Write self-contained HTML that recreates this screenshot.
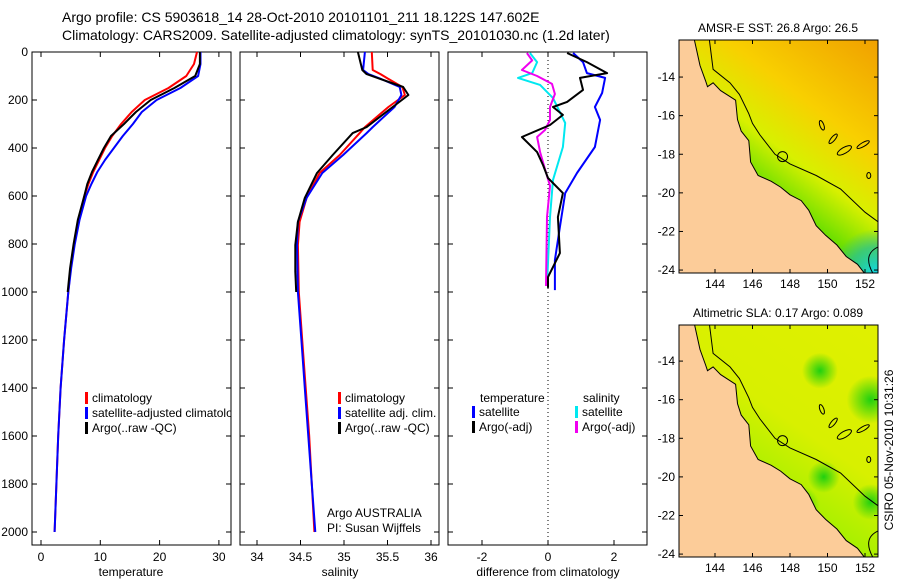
<!DOCTYPE html>
<html><head><meta charset="utf-8"><style>
html,body{margin:0;padding:0;background:#fff;}
svg{display:block;font-family:"Liberation Sans",sans-serif;}
</style></head><body>
<svg id="c" width="900" height="580" viewBox="0 0 900 580" xmlns="http://www.w3.org/2000/svg">
<defs>
<linearGradient id="sstg" x1="1" y1="0" x2="0.35" y2="1">
<stop offset="0" stop-color="#f0a000"/><stop offset="0.35" stop-color="#f8d000"/>
<stop offset="0.55" stop-color="#d8f000"/><stop offset="0.7" stop-color="#70e000"/>
<stop offset="0.85" stop-color="#10c030"/><stop offset="1" stop-color="#10b0a0"/></linearGradient>
<radialGradient id="cyan" cx="0.5" cy="0.5" r="0.5"><stop offset="0" stop-color="#10d8e8"/><stop offset="0.6" stop-color="#20c0a0" stop-opacity="0.7"/><stop offset="1" stop-color="#20c0a0" stop-opacity="0"/></radialGradient>
<linearGradient id="slag" x1="1" y1="0" x2="0.4" y2="1">
<stop offset="0" stop-color="#e0f000"/><stop offset="0.5" stop-color="#d8f000"/><stop offset="0.8" stop-color="#a0f000"/><stop offset="1" stop-color="#60e000"/></linearGradient>
<radialGradient id="gblob"><stop offset="0" stop-color="#20d010"/><stop offset="1" stop-color="#20d010" stop-opacity="0"/></radialGradient>
<clipPath id="clipM1"><rect x="679" y="40" width="199" height="233"/></clipPath>
<clipPath id="clipM2"><rect x="679" y="325" width="199" height="232"/></clipPath>
<clipPath id="clipP1"><rect x="32" y="52" width="199" height="493"/></clipPath>
</defs>
<text x="62" y="22" font-size="14">Argo profile: CS 5903618_14 28-Oct-2010 20101101_211 18.122S 147.602E</text>
<text x="62" y="40" font-size="14">Climatology: CARS2009. Satellite-adjusted climatology: synTS_20101030.nc (1.2d later)</text>
<g id="root"></g>
</svg>
<script>
// ---- data ----
const depths=[0,50,100,150,200,250,300,350,400,450,500,550,600,700,800,900,1000,1200,1400,1600,1800,2000];
const tempClim=[26.3,25.8,24.5,21.5,17.5,15.3,13.5,12.0,10.8,9.8,8.8,8.0,7.3,6.3,5.6,5.0,4.6,3.9,3.3,2.9,2.6,2.3];
const tempSat=[26.9,26.9,26.5,23.5,19.5,17.0,15.5,13.8,12.3,10.8,9.5,8.5,7.6,6.5,5.7,5.1,4.6,3.9,3.3,2.9,2.6,2.3];
const argoDepths=[0,50,100,150,200,250,300,350,400,450,500,550,600,700,800,900,1000];
const tempArgo=[26.8,26.8,26.0,22.5,18.5,16.0,14.0,11.8,10.6,9.6,8.6,7.8,7.3,6.2,5.5,4.9,4.5];
const salDepths=[0,75,92,110,146,179,229,313,338,429,504,608,708,804,1000,1200,1400,1600,1800,2000];
const salClim=[35.32,35.33,35.42,35.5,35.67,35.70,35.51,35.24,35.18,34.95,34.72,34.57,34.49,34.47,34.48,34.52,34.56,34.60,34.63,34.66];
const salSat=[35.24,35.22,35.28,35.41,35.64,35.66,35.58,35.33,35.26,34.99,34.75,34.57,34.47,34.46,34.47,34.51,34.55,34.59,34.63,34.67];
const salArgoDepths=[0,75,92,146,179,229,313,338,429,504,608,708,804,915,1000];
const salArgo=[35.16,35.21,35.26,35.68,35.74,35.56,35.26,35.10,34.87,34.69,34.55,34.47,34.44,34.44,34.45];
const dTsatD=[4,42,88,108,171,229,283,396,504,588,729,867,992];
const dTsat=[0.76,1.06,1.18,1.73,1.64,1.42,1.58,1.42,0.88,0.52,0.36,0.21,0.21];
const dTargoD=[4,42,88,108,158,208,229,262,304,354,417,471,525,588,688,838,938,983];
const dTargo=[0.58,1.18,1.79,0.97,1.06,0.58,0.15,0.45,0.06,-0.79,-0.33,-0.15,0,0.45,0.3,0.36,0,0];
const dSsatD=[4,42,88,108,137,192,296,396,533,688,975];
const dSsat=[-0.55,-0.33,-0.48,-0.91,-0.24,0.15,0.52,0.45,0.15,0.06,-0.03];
const dSargoD=[4,35,75,100,133,175,229,283,325,354,417,488,558,688,975];
const dSargo=[-0.64,-0.48,-0.79,-0.33,0.12,0.21,0.06,0.06,-0.09,-0.33,-0.24,-0.09,0.06,-0.03,-0.06];
const depthTicks=[0,200,400,600,800,1000,1200,1400,1600,1800,2000];
const tempTicks=[0,10,20,30];
const salTicks=[34,34.5,35,35.5,36];
const diffTicks=[-2,0,2];
const lonTicks=[144,146,148,150,152];
const latTicks=[-14,-16,-18,-20,-22,-24];
const coastLon=[142.9,143.2,143.5,143.6,143.9,144.3,145.1,145.2,145.4,145.8,145.9,146.3,147.0,147.5,148.0,148.6,149.0,149.4,149.9,150.5,151.0,151.6,152.0];
const coastLat=[-12.08,-13.4,-14.2,-14.5,-14.3,-14.7,-15.2,-16.2,-16.8,-17.3,-18.4,-19.1,-19.4,-19.7,-20.1,-20.4,-20.9,-21.7,-22.2,-22.7,-23.3,-23.7,-24.2];
const shelfLon=[143.7,143.9,144.8,145.3,145.8,146.0,146.4,147.2,148.0,149.4,150.7,152.0,152.7];
const shelfLat=[-12.08,-13.6,-14.3,-14.9,-15.9,-16.4,-17.0,-18.0,-18.5,-19.1,-19.8,-21.0,-21.5];
const argoPos=[147.602,-18.122];

// ---- helpers ----
const NS='http://www.w3.org/2000/svg', root=document.getElementById('root');
function el(tag,attrs,parent){const e=document.createElementNS(NS,tag);for(const k in attrs)e.setAttribute(k,attrs[k]);(parent||root).appendChild(e);return e;}
function txt(x,y,s,attrs,parent){const t=el('text',Object.assign({x:x,y:y,'font-size':12},attrs||{}),parent);t.textContent=s;return t;}
const TOP=52, BOT=545;
const yD=d=>TOP+0.24*d;
const xT=v=>41+5.93*v;
const xS=v=>257+87*(v-34);
const xDf=v=>548+33*v;
function line(xs,ds,fx,color,name){
  const pts=xs.map((v,i)=>fx(v).toFixed(1)+','+yD(ds[i]).toFixed(1)).join(' ');
  const p=el('polyline',{points:pts,fill:'none',stroke:color,'stroke-width':2,'stroke-linejoin':'round'});
  
  
}
function frame(x0,x1,name){
  const r=el('rect',{x:x0,y:TOP,width:x1-x0,height:BOT-TOP,fill:'none',stroke:'#000','stroke-width':1});
  
  
  depthTicks.forEach(d=>{el('line',{x1:x0,x2:x0+5,y1:yD(d),y2:yD(d),stroke:'#000'});el('line',{x1:x1-5,x2:x1,y1:yD(d),y2:yD(d),stroke:'#000'});});
}
function xticks(ticks,fx,name){
  ticks.forEach(v=>{const x=fx(v);
    el('line',{x1:x,x2:x,y1:BOT,y2:BOT-5,stroke:'#000'});
    el('line',{x1:x,x2:x,y1:TOP,y2:TOP+5,stroke:'#000'});
    const lab=txt(x,561,String(v),{'text-anchor':'middle'});
    
    
  });
}

frame(32,231,'temperature-panel');
depthTicks.forEach(d=>{const t=txt(28,yD(d)+4,String(d),{'text-anchor':'end'});
  
  });
xticks(tempTicks,xT,'temperature-tick-label');
line(tempClim,depths,xT,'#f00','temp-climatology-line');
line(tempSat,depths,xT,'#00f','temp-satellite-line');
line(tempArgo,argoDepths,xT,'#000','temp-argo-line');

frame(240,439,'salinity-panel');
xticks(salTicks,xS,'salinity-tick-label');
line(salClim,salDepths,xS,'#f00','sal-climatology-line');
line(salSat,salDepths,xS,'#00f','sal-satellite-line');
line(salArgo,salArgoDepths,xS,'#000','sal-argo-line');

frame(448,647,'difference-panel');
xticks(diffTicks,xDf,'difference-tick-label');
const zl=el('line',{x1:xDf(0),x2:xDf(0),y1:TOP,y2:BOT,stroke:'#000','stroke-dasharray':'1,3'});


line(dSsat,dSsatD,xDf,'#00e8f0','sal-satellite-diff-line');
line(dSargo,dSargoD,xDf,'#f000f0','sal-argo-diff-line');
line(dTsat,dTsatD,xDf,'#00f','temp-satellite-diff-line');
line(dTargo,dTargoD,xDf,'#000','temp-argo-diff-line');

[[131,'temperature','temperature-axis-title'],[340,'salinity','salinity-axis-title'],[548,'difference from climatology','difference-axis-title']].forEach(a=>{
  const t=txt(a[0],576,a[1],{'text-anchor':'middle'});
  
  });
function legRow(x,y,color,label,name,parent){
  el('rect',{x:x,y:y-10,width:3,height:12,fill:color},parent);
  const t=txt(x+7,y,label,{},parent);
  
  
}
const lg1=el('g',{'clip-path':'url(#clipP1)'});


[['#f00','climatology'],['#00f','satellite-adjusted climatology'],['#000','Argo(..raw -QC)']].forEach((r,i)=>legRow(85,402+15*i,r[0],r[1],'temperature-legend-entry',lg1));
[['#f00','climatology'],['#00f','satellite adj. clim.'],['#000','Argo(..raw -QC)']].forEach((r,i)=>legRow(338,402+15*i,r[0],r[1],'salinity-legend-entry'));
txt(480,402,'temperature',{});
txt(583,402,'salinity',{});
legRow(472,416,'#00f','satellite','legend-temp-satellite');
legRow(472,431,'#000','Argo(-adj)','legend-temp-argo');
legRow(575,416,'#00e8f0','satellite','legend-sal-satellite');
legRow(575,431,'#f000f0','Argo(-adj)','legend-sal-argo');
txt(327,517,'Argo AUSTRALIA',{});
txt(327,532,'PI: Susan Wijffels',{});

function map(top,bottom,clip,fill,title,name,blobs){
  const g=el('g',{});
  
  
  const lat0=top===40?-12.08:-12.13;
  const fx=lon=>679+18.75*(lon-142.08);
  const fy=lat=>top+19.3*(lat0-lat);
  const inner=el('g',{'clip-path':clip},g);
  el('rect',{x:679,y:top,width:199,height:bottom-top,fill:fill},inner);
  blobs.forEach(b=>el('ellipse',{cx:fx(b[0]),cy:fy(b[1]),rx:b[2],ry:b[2],fill:b[3]},inner));
  let pts=coastLon.map((v,i)=>fx(v).toFixed(1)+','+fy(coastLat[i]).toFixed(1));
  pts.push('679,'+(bottom+5),'679,'+(top-5));
  const land=el('polygon',{points:pts.join(' '),fill:'#fccc99',stroke:'#000','stroke-width':1},inner);
  
  
  el('polyline',{points:shelfLon.map((v,i)=>fx(v).toFixed(1)+','+fy(shelfLat[i]).toFixed(1)).join(' '),fill:'none',stroke:'#000','stroke-width':1},inner);
  [[149.7,-16.5,2,5,-20],[150.3,-17.2,2,6,40],[150.9,-17.8,3,8,60],[151.9,-17.5,2,7,60],[152.2,-19.1,2,3,0]].forEach(r=>el('ellipse',{cx:0,cy:0,rx:r[2],ry:r[3],fill:'none',stroke:'#000',transform:`translate(${fx(r[0])},${fy(r[1])}) rotate(${r[4]})`},inner));
  el('path',{d:`M${fx(152.7)},${fy(-22.8)} Q${fx(151.8)},${fy(-23.2)} ${fx(152.5)},${fy(-24.3)}`,fill:'none',stroke:'#000'},inner);
  const c=el('circle',{cx:fx(argoPos[0]),cy:fy(argoPos[1]),r:5,fill:'none',stroke:'#000'},g);
  
  
  el('rect',{x:679,y:top,width:199,height:bottom-top,fill:'none',stroke:'#000'},g);
  lonTicks.forEach(v=>{const x=fx(v);el('line',{x1:x,x2:x,y1:top,y2:top+4,stroke:'#000'},g);el('line',{x1:x,x2:x,y1:bottom,y2:bottom-4,stroke:'#000'},g);txt(x,bottom+15,String(v),{'text-anchor':'middle'},g);});
  latTicks.forEach(v=>{const y=fy(v);el('line',{x1:679,x2:683,y1:y,y2:y,stroke:'#000'},g);el('line',{x1:874,x2:878,y1:y,y2:y,stroke:'#000'},g);txt(675,y+4,String(v),{'text-anchor':'end'},g);});
  const t=txt(778,top-8,title,{'text-anchor':'middle'},g);
  
  
}
map(40,273,'url(#clipM1)','url(#sstg)','AMSR-E SST: 26.8 Argo: 26.5','sst-map',[[152.6,-24.2,45,'url(#cyan)']]);
map(325,557,'url(#clipM2)','url(#slag)','Altimetric SLA: 0.17 Argo: 0.089','sla-map',
 [[149.6,-14.5,18,'url(#gblob)'],[152.3,-16.0,24,'url(#gblob)'],[149.8,-20.0,16,'url(#gblob)'],[152.3,-21.3,18,'url(#gblob)'],[148.5,-21.5,20,'url(#gblob)']]);
const st=txt(0,0,'CSIRO 05-Nov-2010 10:31:26',{'text-anchor':'middle',transform:'translate(893,450) rotate(-90)'});


</script>
</body></html>
